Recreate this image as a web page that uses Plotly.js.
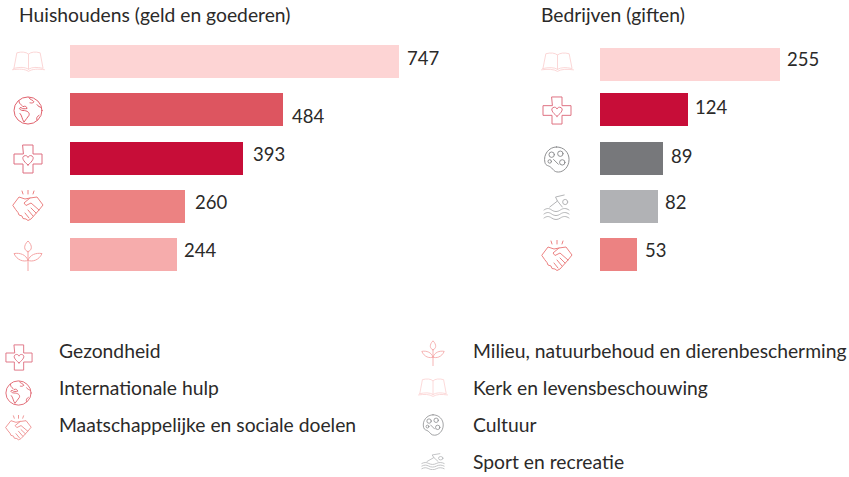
<!DOCTYPE html>
<html><head><meta charset="utf-8">
<script src="https://cdn.plot.ly/plotly-3.0.1.min.js"></script>
<style>html,body{margin:0;padding:0;background:#fff}#c{width:849px;height:477px}</style>
</head><body><div id="c"></div>
<script>
const W=849,H=477;
const titleLeft='Huishoudens (geld en goederen)';
const titleRight='Bedrijven (giften)';
const catsLeft=['Kerk en levensbeschouwing','Internationale hulp','Gezondheid','Maatschappelijke en sociale doelen','Milieu, natuurbehoud en dierenbescherming'];
const valsLeft=[747,484,393,260,244];
const catsRight=['Kerk en levensbeschouwing','Gezondheid','Cultuur','Sport en recreatie','Maatschappelijke en sociale doelen'];
const valsRight=[255,124,89,82,53];
const legendCol1=['Gezondheid','Internationale hulp','Maatschappelijke en sociale doelen'];
const legendCol2=['Milieu, natuurbehoud en dierenbescherming','Kerk en levensbeschouwing','Cultuur','Sport en recreatie'];
const colors={'Kerk en levensbeschouwing':'#fdd4d4','Internationale hulp':'#dd5560','Gezondheid':'#c70d38','Maatschappelijke en sociale doelen':'#ec8282','Milieu, natuurbehoud en dierenbescherming':'#f6acac','Cultuur':'#77787b','Sport en recreatie':'#b1b2b5'};
const iconStroke={'Kerk en levensbeschouwing':'#fbd3d3','Internationale hulp':'#df5f6a','Gezondheid':'#de6f80','Maatschappelijke en sociale doelen':'#ec8282','Milieu, natuurbehoud en dierenbescherming':'#f4a3a3','Cultuur':'#8a8b8e','Sport en recreatie':'#b1b2b5'};
const iconPaths={
 'Kerk en levensbeschouwing':[34,23,'<path d="M2 19 L5 2 C10 0.5 14.5 1 17 3.5 C19.5 1 24 0.5 29 2 L32 19 C26 17.5 20.5 17.5 17 20 C13.5 17.5 8 17.5 2 19Z M17 3.5 V20 M0.5 20.5 C7 19.5 13 19.5 17 22.3 C21 19.5 27 19.5 33.5 20.5"/>'],
 'Internationale hulp':[30,30,'<circle cx="15" cy="15" r="14"/><path d="M6 5 C6 9 9 9 10 11 C12 10 14 11 14 13 C12 13 10 14 8 12 C5 12 7 15 10 15 C14 15 17 17 16 20 C14 22 13 25 11 27 C9 24 9 20 7 18 M16 2 C17 4 20 4 21 6 C19 8 18 7 17 7 M24 9 C25 11 27 11 28 12 M26 20 C24 21 23 23 24 25"/>'],
 'Gezondheid':[30,30,'<path d="M10 1 H20 V10 H29 V20 H20 V29 H10 V20 H1 V10 H10Z"/><path d="M15 21 C10 17 8.5 13.5 11 12 C13 11 14.5 12 15 13.5 C15.5 12 17 11 19 12 C21.5 13.5 20 17 15 21Z"/>'],
 'Maatschappelijke en sociale doelen':[32,32,'<path d="M10 1 l1 3 M16 0 v4 M22 1 l-1 3 M1 15 L7 7 L13 9 L18 8 L25 7 L31 15 L27 20 L19 29 L16 30.5 L14 29 L11 28.5 L10 26 L7 25 L6 22.5 L4 20Z M18 8 L12 13 L14 15.5 L19 13 L27 20 M19 18 L24 23 M16 20 L21 26 M13 23 L17 28"/>'],
 'Milieu, natuurbehoud en dierenbescherming':[30,32,'<path d="M15 32 V12 M15 12 C19 11 20 6 15 1 C10 6 11 11 15 12Z M15 21 C11 23 4 21 1 14 C7 13 13 15 15 21Z M15 21 C17 15 23 13 29 14 C26 21 19 23 15 21Z"/>'],
 'Cultuur':[28,28,'<path d="M14 1 C22 1 27 7 27 14 C27 22 21 27 16 27 C11 27 11 24 8 22 C6 20 3 21 2 17 C0 9 6 1 14 1Z"/><circle cx="9" cy="9" r="2.8"/><circle cx="18" cy="8" r="2.8"/><circle cx="20" cy="17" r="2.8"/><circle cx="7" cy="16" r="1.8"/><path d="M11 14 L16 19"/>'],
 'Sport en recreatie':[28,26,'<circle cx="23" cy="8" r="2.6"/><path d="M7 13 L15 7 L13 3 L22 1 M15 7 L20 13 M1 16 C4 14 6 14 9 16 C12 18 15 18 18 16 C21 14 24 14 27 16 M1 20 C4 18 6 18 9 20 C12 22 15 22 18 20 C21 18 24 18 27 20 M1 24 C4 22 6 22 9 24 C12 26 15 26 18 24 C21 22 24 22 27 24"/>']
};
function iconSrc(cat){
 const p=iconPaths[cat];
 const s='<svg xmlns="http://www.w3.org/2000/svg" width="'+p[0]+'" height="'+p[1]+'" viewBox="0 0 '+p[0]+' '+p[1]+'" preserveAspectRatio="none"><g fill="none" stroke="'+iconStroke[cat]+'" stroke-width="1" stroke-linejoin="round" stroke-linecap="round">'+p[2]+'</g></svg>';
 return 'data:image/svg+xml;utf8,'+encodeURIComponent(s);
}
const px=x=>x/W, py=y=>1-y/H;
function icon(cat,x0,y0,x1,y1){return {source:iconSrc(cat),xref:'paper',yref:'paper',x:px(x0),y:py(y0),sizex:(x1-x0)/W,sizey:(y1-y0)/H,xanchor:'left',yanchor:'top',sizing:'stretch',layer:'above'};}
const txtFont={family:'Lato, "Open Sans", sans-serif',size:19.3,color:'#2b2a29'};
function label(t,x,y,extra){return Object.assign({text:t,xref:'paper',yref:'paper',x:px(x),y:py(y),xanchor:'left',yanchor:'middle',showarrow:false,font:txtFont,borderpad:0,borderwidth:0},extra||{});}
const h=33/48.25;
const offsetsLeft=valsLeft.map(()=>-h/2);
const offsetsRight=valsRight.map((v,i)=>i===0?-h/2+3/48.25:-h/2);
const traces=[
 {type:'bar',orientation:'h',y:catsLeft,x:valsLeft,xaxis:'x',yaxis:'y',width:h,offset:offsetsLeft,marker:{color:catsLeft.map(c=>colors[c]),line:{width:0}},hoverinfo:'skip'},
 {type:'bar',orientation:'h',y:catsRight,x:valsRight,xaxis:'x2',yaxis:'y2',width:h,offset:offsetsRight,marker:{color:catsRight.map(c=>colors[c]),line:{width:0}},hoverinfo:'skip'}
];
const shiftsLeft=[[7,4],[8,-6],[9,4],[9,4],[6,4]];
const shiftsRight=[[6,3],[6,3],[7,2],[6,4],[7,4]];
const valueAnn=(vals,cats,xr,yr,sh)=>vals.map((v,i)=>({text:String(v),x:v,y:cats[i],xref:xr,yref:yr,xanchor:'left',yanchor:'middle',xshift:sh[i][0],yshift:sh[i][1],showarrow:false,font:Object.assign({},txtFont,{size:18.5}),borderpad:0}));
const annotations=[
 label(titleLeft,19,15),label(titleRight,541,15),
 ...valueAnn(valsLeft,catsLeft,'x','y',shiftsLeft),
 ...valueAnn(valsRight,catsRight,'x2','y2',shiftsRight),
 ...legendCol1.map((t,i)=>label(t,59,350+37*i)),
 ...legendCol2.map((t,i)=>label(t,473,350+37*i))
];
const images=[
 icon(catsLeft[0],12,51,45,72),icon(catsLeft[1],13,96,43,125),icon(catsLeft[2],13,144,43,174),icon(catsLeft[3],12,190,44,222),icon(catsLeft[4],13,240,43,271),
 icon(catsRight[0],541,52,574,72),icon(catsRight[1],542,96,572,125),icon(catsRight[2],543,146,570,173),icon(catsRight[3],543,194,570,220),icon(catsRight[4],541,240,573,272),
 icon(legendCol1[0],5,344,33,371),icon(legendCol1[1],5,380,32,406),icon(legendCol1[2],5,415,32,441),
 icon(legendCol2[0],421,340,445,366),icon(legendCol2[1],418,378,448,397),icon(legendCol2[2],422,414,444,436),icon(legendCol2[3],421,453,445,470)
];
const hidden={visible:false,fixedrange:true};
const yTop=37.4,yBot=278.6;
const layout={
 width:W,height:H,margin:{l:0,r:0,t:0,b:0,pad:0},paper_bgcolor:'#fff',plot_bgcolor:'#fff',showlegend:false,bargap:0,
 xaxis:Object.assign({},hidden,{domain:[70/W,500/W],range:[0,430/(329/747)],anchor:'y'}),
 yaxis:Object.assign({},hidden,{domain:[1-yBot/H,1-yTop/H],range:[4.5,-0.5],type:'category',categoryorder:'array',categoryarray:catsLeft,anchor:'x'}),
 xaxis2:Object.assign({},hidden,{domain:[600/W,840/W],range:[0,240/(180/255)],anchor:'y2'}),
 yaxis2:Object.assign({},hidden,{domain:[1-yBot/H,1-yTop/H],range:[4.5,-0.5],type:'category',categoryorder:'array',categoryarray:catsRight,anchor:'x2'}),
 annotations,images
};
Plotly.newPlot('c',traces,layout,{displayModeBar:false,staticPlot:true});
</script></body></html>
